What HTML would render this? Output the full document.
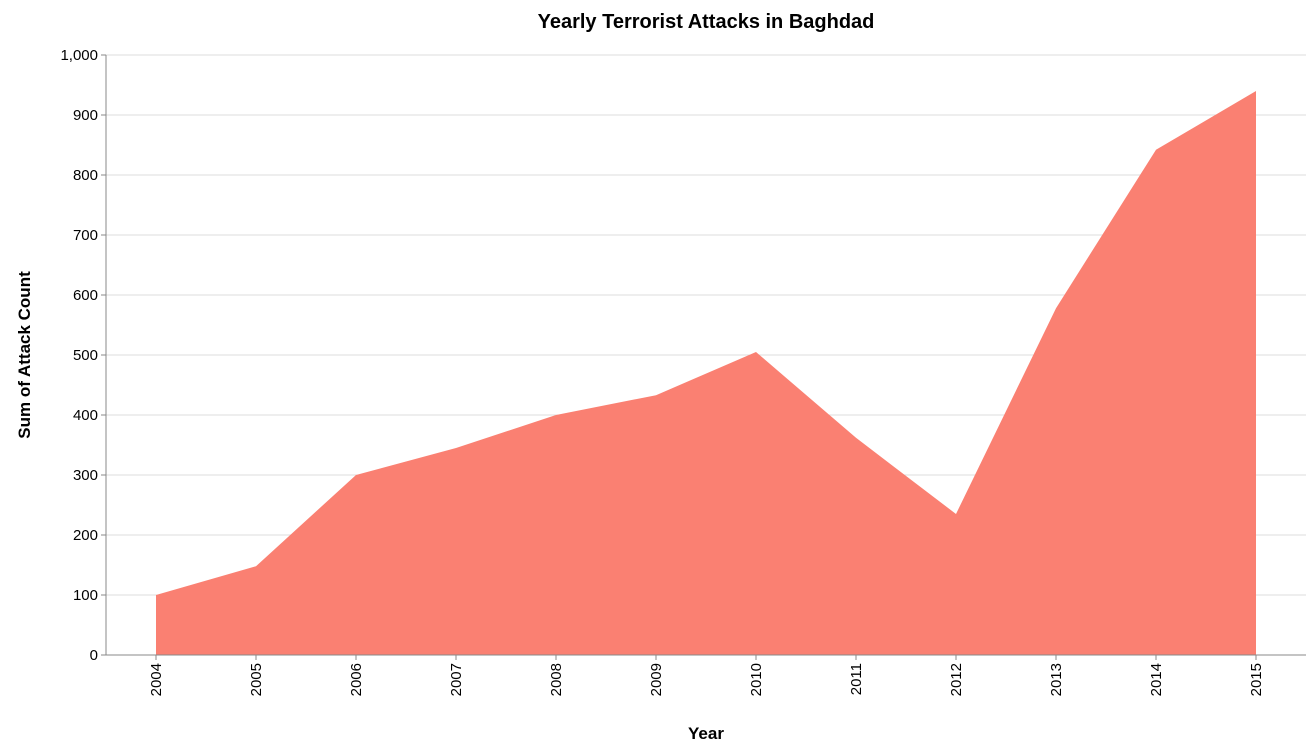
<!DOCTYPE html>
<html><head><meta charset="utf-8">
<style>
html,body{margin:0;padding:0;background:#fff;}
svg{display:block;font-family:"Liberation Sans",Arial,sans-serif;}
</style></head>
<body>
<svg id="chart" width="1316" height="754" viewBox="0 0 1316 754"></svg>
<script>
const years = ["2004","2005","2006","2007","2008","2009","2010","2011","2012","2013","2014","2015"];
const attackCounts = [100, 148, 300, 345, 400, 433, 505, 362, 235, 578, 842, 940];
const yTicks = [0,100,200,300,400,500,600,700,800,900,1000];
const yTickLabels = ["0","100","200","300","400","500","600","700","800","900","1,000"];

const NS = "http://www.w3.org/2000/svg";
const svg = document.getElementById("chart");
const L = 106, R = 1306, T = 55, B = 655, yMax = 1000;
const step = (R - L) / years.length;
const x = i => L + step * (i + 0.5);
const y = v => B - (v / yMax) * (B - T);

function mk(tag, attrs, parent) {
  const e = document.createElementNS(NS, tag);
  for (const k in attrs) e.setAttribute(k, attrs[k]);
  (parent || svg).appendChild(e);
  return e;
}

const grid = mk("g", {});


yTicks.forEach(v => {
  mk("line", {x1: L, x2: R, y1: y(v), y2: y(v), stroke: "#ddd", "stroke-width": 1}, grid);
});

let d = "M" + x(0) + "," + y(0);
attackCounts.forEach((v, i) => { d += " L" + x(i) + "," + y(v); });
d += " L" + x(years.length - 1) + "," + y(0) + " Z";
const area = mk("path", {d: d, fill: "#fa8072"});



const ya = mk("g", {});


mk("line", {x1: L, x2: L, y1: T, y2: B, stroke: "#888"}, ya);
yTicks.forEach((v, i) => {
  mk("line", {x1: L - 5, x2: L, y1: y(v), y2: y(v), stroke: "#888"}, ya);
  const t = mk("text", {x: L - 8, y: y(v) + 5, "text-anchor": "end", "font-size": 15, fill: "#000"}, ya);
  t.textContent = yTickLabels[i];
});

const xa = mk("g", {});


mk("line", {x1: L, x2: R, y1: B, y2: B, stroke: "#888"}, xa);
years.forEach((yr, i) => {
  mk("line", {x1: x(i), x2: x(i), y1: B, y2: B + 5, stroke: "#888"}, xa);
  const t = mk("text", {x: x(i) + 5, y: B + 8, "text-anchor": "end", "font-size": 15, fill: "#000",
    transform: "rotate(-90 " + (x(i) + 5) + " " + (B + 8) + ")"}, xa);
  t.textContent = yr;
});

const xt = mk("text", {x: (L + R) / 2, y: 739, "text-anchor": "middle", "font-size": 17, "font-weight": "bold"});
xt.textContent = "Year";



const yt = mk("text", {x: 0, y: 0, "text-anchor": "middle", "font-size": 17, "font-weight": "bold",
  transform: "translate(30," + ((T + B) / 2) + ") rotate(-90)"});
yt.textContent = "Sum of Attack Count";



const ct = mk("text", {x: (L + R) / 2, y: 28, "text-anchor": "middle", "font-size": 20, "font-weight": "bold"});
ct.textContent = "Yearly Terrorist Attacks in Baghdad";


</script>
</body></html>
